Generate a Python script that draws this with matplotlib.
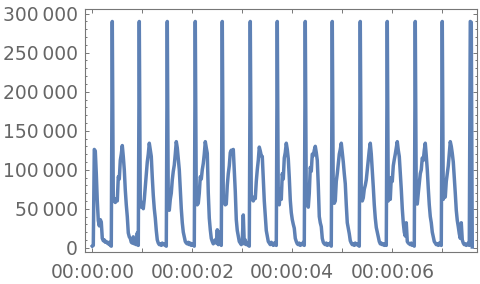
import matplotlib
matplotlib.use("Agg")
import matplotlib.pyplot as plt
from matplotlib.ticker import FuncFormatter, MultipleLocator
import numpy as np

# signal samples, one every 20 ms, split per pulse
dt = 0.02
head = [2000, 3000, 126000, 124000, 95000, 60000, 35000, 28000, 36000, 33000,
        12000, 9000, 10000, 7000, 8000, 6000, 5000, 7000, 3000, 2000]
pulse_01 = [290000, 62000, 60000, 58000, 63000, 60000, 91000, 88000, 112000, 120000,
            131000, 117000, 100000, 74000, 55000, 40000, 19000, 14000, 12000, 7000,
            6000, 14000, 5000, 6000, 4000, 19000, 3000]
pulse_02 = [290000, 55000, 52000, 58000, 50000, 62000, 78000, 95000, 110000, 120000,
            134000, 125000, 117000, 90000, 67000, 50000, 38000, 22000, 10000, 6000,
            4000, 5000, 3000, 6000, 4000, 5000, 3000, 2000]
pulse_03 = [290000, 50000, 48000, 62000, 70000, 87000, 98000, 106000, 120000, 136000,
            128000, 114000, 100000, 75000, 50000, 32000, 20000, 14000, 8000, 6000,
            5000, 7000, 4000, 6000, 3000, 5000, 4000, 2000]
pulse_04 = [290000, 60000, 55000, 57000, 70000, 91000, 88000, 100000, 108000, 120000,
            136000, 128000, 121000, 70000, 38000, 23000, 12000, 8000, 5000, 7000,
            10000, 6000, 23000, 4000, 20000, 5000, 3000]
pulse_05 = [290000, 62000, 58000, 55000, 56000, 80000, 95000, 105000, 122000, 125000,
            120000, 126000, 100000, 72000, 36000, 22000, 15000, 8000, 6000, 4000,
            9000, 42000, 5000, 10000, 4000, 6000, 3000, 2000]
pulse_06 = [290000, 64000, 62000, 60000, 65000, 63000, 85000, 100000, 112000, 129000,
            124000, 118000, 117000, 90000, 60000, 40000, 22000, 15000, 8000, 6000,
            4000, 7000, 5000, 3000, 6000, 4000, 3000]
pulse_07 = [290000, 58000, 55000, 75000, 62000, 95000, 88000, 115000, 122000, 134000,
            126000, 114000, 90000, 61000, 45000, 36000, 30000, 25000, 12000, 8000,
            5000, 4000, 6000, 3000, 5000, 4000, 7000, 3000]
pulse_08 = [290000, 60000, 55000, 52000, 70000, 103000, 98000, 120000, 118000, 125000,
            130000, 122000, 112000, 80000, 40000, 32000, 27000, 12000, 7000, 5000,
            4000, 6000, 3000, 5000, 4000, 6000, 2000]
pulse_09 = [290000, 62000, 57000, 60000, 85000, 95000, 108000, 120000, 126000, 134000,
            122000, 110000, 95000, 82000, 55000, 32000, 25000, 18000, 9000, 6000,
            4000, 5000, 3000, 6000, 4000, 5000, 3000, 2000]
pulse_10 = [290000, 62000, 60000, 64000, 75000, 80000, 87000, 100000, 113000, 125000,
            134000, 120000, 100000, 78000, 55000, 38000, 26000, 20000, 14000, 8000,
            5000, 6000, 4000, 5000, 3000, 5000, 3000]
pulse_11 = [290000, 60000, 68000, 62000, 90000, 85000, 105000, 113000, 120000, 128000,
            136000, 125000, 117000, 96000, 75000, 50000, 32000, 20000, 15000, 32000,
            8000, 6000, 5000, 4000, 6000, 3000, 5000, 2000]
pulse_12 = [290000, 58000, 56000, 70000, 82000, 95000, 100000, 115000, 112000, 125000,
            134000, 118000, 100000, 76000, 55000, 40000, 32000, 20000, 14000, 8000,
            6000, 4000, 5000, 3000, 6000, 4000, 3000]
pulse_13 = [290000, 62000, 68000, 65000, 85000, 95000, 105000, 120000, 136000, 130000,
            121000, 110000, 91000, 70000, 48000, 35000, 27000, 18000, 12000, 32000,
            10000, 6000, 4000, 5000, 3000, 4000, 6000, 3000]
tail = [290000, 289000, 1000]

values = np.array(head + pulse_01 + pulse_02 + pulse_03 + pulse_04 + pulse_05 + pulse_06
                  + pulse_07 + pulse_08 + pulse_09 + pulse_10 + pulse_11 + pulse_12
                  + pulse_13 + tail, dtype=float)
seconds = np.arange(len(values)) * dt

line_color = '#5E81B5'
frame_color = '#777777'
label_color = '#666666'

fig = plt.figure(figsize=(4.8, 2.84), dpi=100)
ax = fig.add_axes([0.1781, 0.1137, 0.8156, 0.8535])
ax.plot(seconds, values, color=line_color, lw=2.5, solid_joinstyle='round')

ax.set_xlim(-0.136, 7.694)
ax.set_ylim(-5100, 305600)

ax.xaxis.set_major_locator(MultipleLocator(2))
ax.xaxis.set_minor_locator(MultipleLocator(1))
ax.yaxis.set_major_locator(MultipleLocator(50000))
ax.yaxis.set_minor_locator(MultipleLocator(10000))


def fmt_time(x, pos):
    s = int(round(x))
    return f"{s // 3600:02d}:{(s // 60) % 60:02d}:{s % 60:02d}"


def fmt_num(v, pos):
    return f"{int(round(v)):,}".replace(",", "\u2009")


ax.xaxis.set_major_formatter(FuncFormatter(fmt_time))
ax.yaxis.set_major_formatter(FuncFormatter(fmt_num))

for sp in ax.spines.values():
    sp.set_color(frame_color)
    sp.set_linewidth(0.8)

ax.tick_params(axis='both', which='both', direction='in', top=True, right=True,
               color=frame_color, width=0.7, labelcolor=label_color, labelsize=13.5)
ax.tick_params(axis='x', which='both', length=3.0, pad=8.0)
ax.tick_params(axis='y', which='major', length=3.0, pad=5.6)
ax.tick_params(axis='y', which='minor', length=1.5)

fig.savefig("out.png", dpi=100)
